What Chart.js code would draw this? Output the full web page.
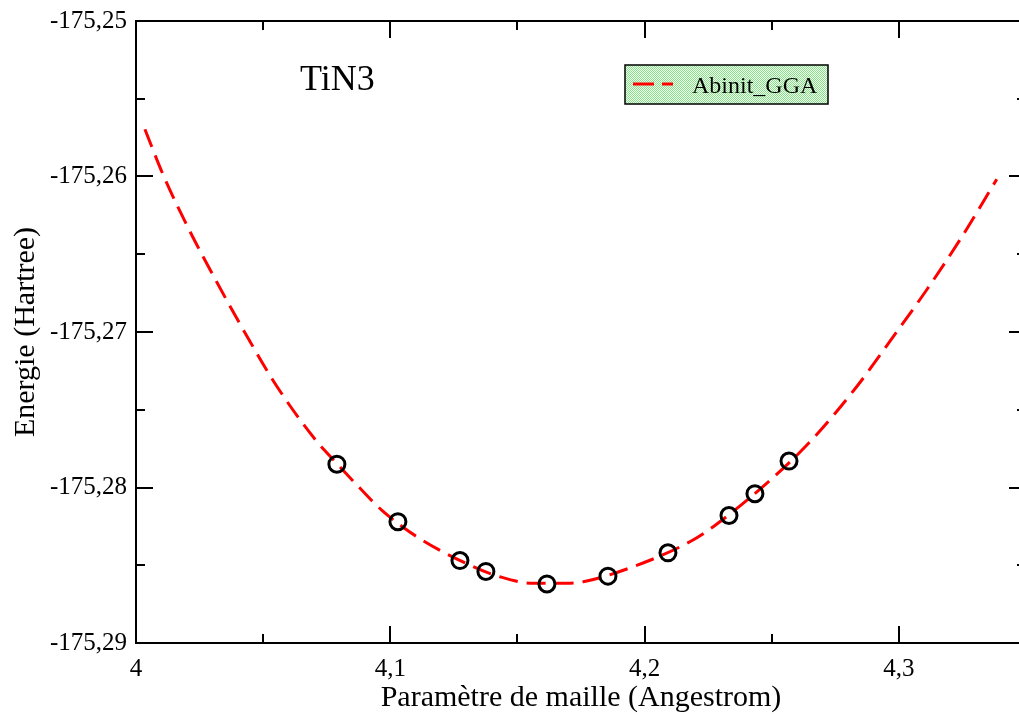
<!DOCTYPE html>
<html>
<head>
<meta charset="utf-8">
<script src="https://cdn.jsdelivr.net/npm/chart.js@4.4.1/dist/chart.umd.min.js"></script>
<style>
  html, body { margin: 0; padding: 0; overflow: hidden; background: #fff; }
  canvas { display: block; }
</style>
</head>
<body>
<canvas id="graphic__eos" width="1040" height="715"></canvas>
<script>
// courbe ajustée
const fitX = [4.0035, 4.0107, 4.0206, 4.0317, 4.0429, 4.0553, 4.0704, 4.0789, 4.0881, 4.0966,
  4.1104, 4.1326, 4.1431, 4.1562, 4.1694, 4.1759, 4.1956, 4.2178, 4.2270, 4.2480,
  4.2657, 4.2834, 4.2978, 4.3109, 4.3240, 4.3385];
const fitY = [-175.25696, -175.2599, -175.26333, -175.26677, -175.27006, -175.27347, -175.2769, -175.27844, -175.28005, -175.28145,
  -175.28316, -175.28509, -175.28574, -175.28616, -175.28616, -175.28606, -175.28509, -175.28349, -175.28252, -175.27973,
  -175.27695, -175.27352, -175.2703, -175.2673, -175.26408, -175.26018];

// points calculés
const calcX = [4.079, 4.103, 4.1274, 4.1376, 4.1616, 4.1856, 4.2092, 4.2332, 4.2434, 4.2568];
const calcY = [-175.2785, -175.2822, -175.2847, -175.2854, -175.2862, -175.2857, -175.2842, -175.2818, -175.2804, -175.2783];

const xTicks = [4, 4.1, 4.2, 4.3];
const xMinor = [4.05, 4.15, 4.25, 4.35];
const yTicks = [-175.29, -175.28, -175.27, -175.26, -175.25];
const yMinor = [-175.285, -175.275, -175.265, -175.255];

const seriesLabel = "Abinit_GGA";
const titleText = "TiN3";

const serif = "'Liberation Serif', 'DejaVu Serif', serif";
const fmt = (v) => String(Number(v.toFixed(3))).replace(".", ",");

// cadre + graduations vers l'intérieur
const framePlugin = {
  id: "frame",
  afterDatasetsDraw(chart) {
    const { ctx, chartArea: a, scales: { x, y } } = chart;
    ctx.save();
    ctx.strokeStyle = "#000";
    ctx.lineWidth = 2;
    ctx.strokeRect(a.left, a.top, a.right - a.left, a.bottom - a.top);
    ctx.beginPath();
    const xt = (vals, len) => vals.forEach(v => {
      const px = Math.round(x.getPixelForValue(v));
      ctx.moveTo(px, a.bottom); ctx.lineTo(px, a.bottom - len);
      ctx.moveTo(px, a.top); ctx.lineTo(px, a.top + len);
    });
    const yt = (vals, len) => vals.forEach(v => {
      const py = Math.round(y.getPixelForValue(v));
      ctx.moveTo(a.left, py); ctx.lineTo(a.left + len, py);
      ctx.moveTo(a.right, py); ctx.lineTo(a.right - len, py);
    });
    xt(xTicks, 17); xt(xMinor, 9);
    yt(yTicks, 17); yt(yMinor, 9);
    ctx.stroke();

    // titre
    ctx.fillStyle = "#000";
    ctx.font = "36px " + serif;
    ctx.textBaseline = "alphabetic";
    ctx.fillText(titleText, 300, 90);

    // légende
    const pat = document.createElement("canvas");
    pat.width = 2; pat.height = 2;
    const pc = pat.getContext("2d");
    pc.fillStyle = "#fff"; pc.fillRect(0, 0, 2, 2);
    pc.fillStyle = "#7de87d"; pc.fillRect(0, 0, 1, 1); pc.fillRect(1, 1, 1, 1);
    ctx.fillStyle = ctx.createPattern(pat, "repeat");
    ctx.fillRect(625, 65, 203, 39);
    ctx.lineWidth = 1.5;
    ctx.strokeStyle = "#000";
    ctx.strokeRect(625, 65, 203, 39);
    ctx.strokeStyle = "#ff0000";
    ctx.lineWidth = 3;
    ctx.setLineDash([21, 8]);
    ctx.beginPath(); ctx.moveTo(633, 84); ctx.lineTo(673, 84); ctx.stroke();
    ctx.setLineDash([]);
    ctx.fillStyle = "#000";
    ctx.font = "24px " + serif;
    ctx.fillText(seriesLabel, 692, 93);
    ctx.restore();
  }
};

const ctx = document.querySelector("#graphic__eos");
const eosChart = new Chart(ctx, {
  type: "scatter",
  data: {
    datasets: [
      {
        label: seriesLabel,
        data: fitX.map((v, i) => ({ x: v, y: fitY[i] })),
        showLine: true,
        borderColor: "#ff0000",
        borderWidth: 3,
        borderDash: [19, 9],
        pointRadius: 0,
        cubicInterpolationMode: "monotone",
        order: 2,
      },
      {
        label: "points",
        data: calcX.map((v, i) => ({ x: v, y: calcY[i] })),
        showLine: false,
        pointRadius: 8,
        borderWidth: 3,
        borderColor: "#000",
        backgroundColor: "rgba(0,0,0,0)",
        order: 1,
      },
    ],
  },
  options: {
    responsive: false,
    animation: false,
    devicePixelRatio: 1,
    layout: { padding: { left: 0, top: 21, right: 14, bottom: 0 } },
    plugins: { legend: { display: false }, tooltip: { enabled: false } },
    scales: {
      x: {
        type: "linear",
        min: 4, max: 4.35,
        grid: { display: false },
        border: { display: false },
        afterBuildTicks: (s) => { s.ticks = xTicks.map(v => ({ value: v })); },
        afterFit: (s) => { s.height = 72; },
        ticks: { color: "#000", font: { family: serif, size: 25 }, padding: 3, callback: (v) => fmt(v), maxRotation: 0 },
        title: { display: true, text: "Paramètre de maille (Angestrom)", color: "#000",
          font: { family: serif, size: 30, lineHeight: 1 }, padding: { top: 0, bottom: 2 } },
      },
      y: {
        type: "linear",
        min: -175.29, max: -175.25,
        grid: { display: false },
        border: { display: false },
        afterBuildTicks: (s) => { s.ticks = yTicks.map(v => ({ value: v })); },
        afterFit: (s) => { s.width = 136; },
        ticks: { color: "#000", font: { family: serif, size: 25 }, padding: 1, callback: (v) => fmt(v) },
        title: { display: true, text: "Energie (Hartree)", color: "#000",
          font: { family: serif, size: 30, lineHeight: 1 }, padding: { top: 11, bottom: 0 } },
      },
    },
  },
  plugins: [framePlugin],
});
</script>
</body>
</html>
